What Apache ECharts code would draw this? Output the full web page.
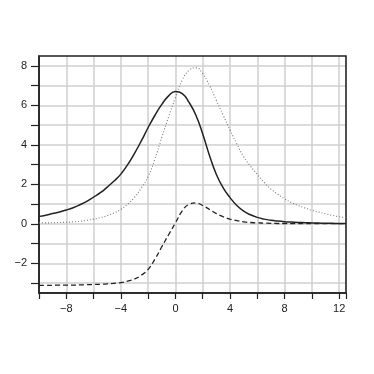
<!DOCTYPE html>
<html>
<head>
<meta charset="utf-8">
<script src="https://cdn.jsdelivr.net/npm/echarts@6/dist/echarts.min.js"></script>
<style>
  html, body { margin: 0; padding: 0; background: #fff; }
  #chart { width: 374px; height: 374px; }
</style>
</head>
<body>
<div id="chart"></div>
<script>
// x positions shared by all three curves (step 0.5)
const xs = [-10, -9.5, -9, -8.5, -8, -7.5, -7, -6.5, -6, -5.5, -5, -4.5, -4, -3.5, -3, -2.5, -2, -1.5, -1, -0.5,
            0, 0.5, 1, 1.5, 2, 2.5, 3, 3.5, 4, 4.5, 5, 5.5, 6, 6.5, 7, 7.5, 8, 8.5, 9, 9.5, 10, 10.5, 11, 11.5, 12, 12.5];

// solid curve
const solidY = [0.38, 0.44, 0.52, 0.6, 0.7, 0.82, 0.97, 1.14, 1.36, 1.58, 1.86, 2.17, 2.52, 3.0, 3.57, 4.2, 4.88, 5.5, 6.05, 6.48,
                6.7, 6.6, 6.15, 5.5, 4.55, 3.45, 2.5, 1.82, 1.33, 0.93, 0.64, 0.46, 0.33, 0.24, 0.18, 0.14, 0.11, 0.09, 0.07, 0.06,
                0.05, 0.04, 0.03, 0.03, 0.02, 0.02];

// dotted curve
const dottedY = [0.05, 0.05, 0.06, 0.07, 0.08, 0.1, 0.13, 0.18, 0.24, 0.32, 0.42, 0.55, 0.73, 1.0, 1.35, 1.82, 2.4, 3.3, 4.38, 5.42,
                 6.4, 7.28, 7.78, 7.9, 7.6, 7.0, 6.25, 5.5, 4.75, 4.05, 3.4, 2.92, 2.5, 2.1, 1.76, 1.5, 1.27, 1.08, 0.93, 0.8,
                 0.69, 0.6, 0.51, 0.43, 0.36, 0.31];

// dashed curve
const dashedY = [-3.11, -3.11, -3.11, -3.1, -3.1, -3.1, -3.09, -3.08, -3.07, -3.06, -3.04, -3.01, -2.97, -2.9, -2.79, -2.6, -2.3, -1.78, -1.16, -0.55,
                 0.05, 0.66, 0.99, 1.06, 0.93, 0.73, 0.52, 0.36, 0.24, 0.16, 0.1, 0.07, 0.05, 0.04, 0.03, 0.02, 0.02, 0.01, 0.01, 0.01,
                 0.01, 0.01, 0.01, 0.01, 0.01, 0.01];

const xLabels = [-8, -4, 0, 4, 8, 12];
const yTicks = [-3, -2, -1, 0, 1, 2, 3, 4, 5, 6, 7, 8];
const yLabels = [-2, 0, 2, 4, 6, 8];

const pair = (ys) => xs.map((x, i) => [x, ys[i]]);
const fmt = (v) => (v < 0 ? '\u2212' + Math.abs(v) : String(v));

const myChart = echarts.init(document.getElementById('chart'));

const option = {
    animation: false,
    grid: {
        left: 39, top: 56, width: 307, height: 237,
        show: true,
        z: 3,
        borderColor: '#222',
        borderWidth: 1.5,
        backgroundColor: 'transparent'
    },
    xAxis: {
        type: 'value',
        min: -10,
        max: 12.5,
        interval: 2,
        axisLine: { show: true, onZero: false, lineStyle: { color: '#222', width: 1.5 } },
        axisTick: { show: true, length: 6, lineStyle: { color: '#222', width: 1.2 } },
        axisLabel: {
            margin: 10,
            fontFamily: 'Liberation Sans',
            fontSize: 11,
            color: '#222',
            formatter: (v) => (xLabels.includes(v) ? fmt(v) : '')
        },
        splitLine: { show: true, lineStyle: { color: '#cfcfcf', width: 1.5 } }
    },
    yAxis: {
        type: 'value',
        min: -3.5,
        max: 8.5,
        axisLine: { show: true, onZero: false, lineStyle: { color: '#222', width: 1.5 } },
        axisTick: { show: true, length: 8, customValues: yTicks, lineStyle: { color: '#222', width: 1.2 } },
        axisLabel: {
            margin: 12,
            fontFamily: 'Liberation Sans',
            fontSize: 11,
            color: '#222',
            customValues: yLabels,
            formatter: (v) => fmt(v)
        },
        splitLine: { show: true, lineStyle: { color: '#cfcfcf', width: 1.5 } }
    },
    series: [
        {
            name: 'dotted',
            type: 'line',
            data: pair(dottedY),
            smooth: true,
            showSymbol: false,
            lineStyle: { color: '#777', width: 1.1, type: [1, 2] }
        },
        {
            name: 'solid',
            type: 'line',
            data: pair(solidY),
            smooth: true,
            showSymbol: false,
            lineStyle: { color: '#222', width: 1.5 }
        },
        {
            name: 'dashed',
            type: 'line',
            data: pair(dashedY),
            smooth: true,
            showSymbol: false,
            lineStyle: { color: '#222', width: 1.3, type: [5, 3] }
        }
    ]
};

myChart.setOption(option);
window.addEventListener('resize', myChart.resize);
</script>
</body>
</html>
